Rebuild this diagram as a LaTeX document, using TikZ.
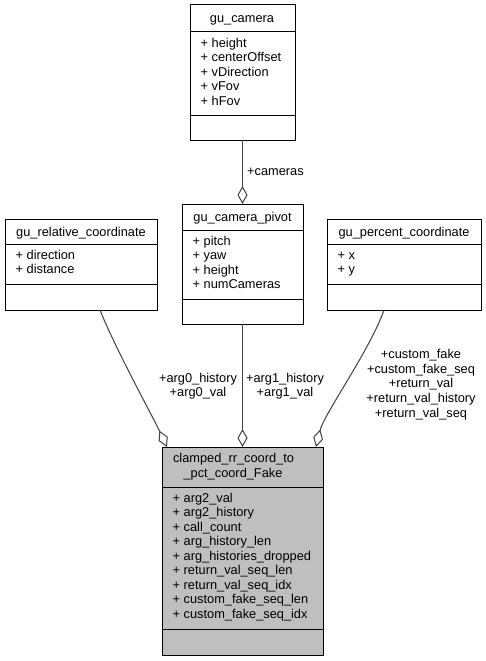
\documentclass[tikz,border=0pt]{standalone}
\usepackage{fontspec}
\setmainfont{Liberation Sans}
\usetikzlibrary{arrows.meta,calc}
\begin{document}
\begin{tikzpicture}[x=1pt,y=-1pt,
  every node/.style={font=\fontsize{12.8}{14.4}\selectfont},
  sec/.style={draw=black, line width=1pt, inner sep=0pt, outer sep=0pt, anchor=north west},
  mainsec/.style={sec, fill=black!25},
  ttl/.style={inner sep=0pt, anchor=base},
  attr/.style={inner sep=0pt, anchor=base west},
  lbl/.style={inner sep=0pt, anchor=base},
  agg/.style={draw=black!75, line width=1pt, -{Diamond[open, length=18pt, width=10pt, line width=1pt]}}
]
\useasboundingbox (0,0) rectangle (486,661);

% gu_camera
\node[sec, minimum width=105pt, minimum height=27pt] (camT) at (190,5) {};
\node[sec, minimum width=105pt, minimum height=83pt] (camA) at (190,32) {};
\node[sec, minimum width=105pt, minimum height=25pt] (camM) at (190,115) {};
\node[ttl] (camN) at (242,23) {gu\_camera};
\foreach \t [count=\i from 0] in {height,centerOffset,vDirection,vFov,hFov}
  \node[attr] (cama\i) at (200.5,47.5+14.4*\i) {+ \t};

% gu_relative_coordinate
\node[sec, minimum width=152pt, minimum height=25pt] (relT) at (5,219) {};
\node[sec, minimum width=152pt, minimum height=40pt] (relA) at (5,244) {};
\node[sec, minimum width=152pt, minimum height=26pt] (relM) at (5,284) {};
\node[ttl] (relN) at (81,236) {gu\_relative\_coordinate};
\foreach \t [count=\i from 0] in {direction,distance}
  \node[attr] (rela\i) at (15.5,259.5+14.4*\i) {+ \t};

% gu_camera_pivot
\node[sec, minimum width=121pt, minimum height=26pt] (pivT) at (182,204) {};
\node[sec, minimum width=121pt, minimum height=69pt] (pivA) at (182,230) {};
\node[sec, minimum width=121pt, minimum height=25pt] (pivM) at (182,299) {};
\node[ttl] (pivN) at (242.5,221.5) {gu\_camera\_pivot};
\foreach \t [count=\i from 0] in {pitch,yaw,height,numCameras}
  \node[attr] (piva\i) at (192.5,245.5+14.4*\i) {+ \t};

% gu_percent_coordinate
\node[sec, minimum width=154pt, minimum height=25pt] (perT) at (327,219) {};
\node[sec, minimum width=154pt, minimum height=40pt] (perA) at (327,244) {};
\node[sec, minimum width=154pt, minimum height=26pt] (perM) at (327,284) {};
\node[ttl] (perN) at (404,236) {gu\_percent\_coordinate};
\foreach \t [count=\i from 0] in {x,y}
  \node[attr] (pera\i) at (337.5,259.5+14.4*\i) {+ \t};

% clamped_rr_coord_to_pct_coord_Fake
\node[mainsec, minimum width=161pt, minimum height=40pt] (mainT) at (162,447) {};
\node[mainsec, minimum width=161pt, minimum height=142pt] (mainA) at (162,487) {};
\node[mainsec, minimum width=161pt, minimum height=26pt] (mainM) at (162,629) {};
\node[ttl] (mainN1) at (233.5,462.5) {clamped\_rr\_coord\_to};
\node[ttl] (mainN2) at (233,477.5) {\_pct\_coord\_Fake};
\foreach \t [count=\i from 0] in {arg2\_val,arg2\_history,call\_count,arg\_history\_len,arg\_histories\_dropped,return\_val\_seq\_len,return\_val\_seq\_idx,custom\_fake\_seq\_len,custom\_fake\_seq\_idx}
  \node[attr] (maina\i) at (172.5,502.5+14.45*\i) {+ \t};

% connectors
\draw[agg] (camM.south) -- (pivT.north);
\draw[agg] (pivM.south) -- (mainT.north);
\draw[agg] ([xshift=19pt]relM.south) .. controls (116,350) and (152,415) .. ([xshift=5pt]mainT.north west);
\draw[agg] ([xshift=-20pt]perM.south) .. controls (370,350) and (324,414) .. ([xshift=-7pt]mainT.north east);

% labels
\node[attr] (lcam) at (247,175) {+cameras};
\node[lbl] (l0a) at (198,382.3) {+arg0\_history};
\node[lbl] (l0b) at (198,396.3) {+arg0\_val};
\node[lbl] (l1a) at (285,382.3) {+arg1\_history};
\node[lbl] (l1b) at (285,396.3) {+arg1\_val};
\foreach \t [count=\i from 0] in {+custom\_fake,+custom\_fake\_seq,+return\_val,+return\_val\_history,+return\_val\_seq}
  \node[lbl] (lr\i) at (421,358.3+14.75*\i) {\t};
\end{tikzpicture}
\end{document}
